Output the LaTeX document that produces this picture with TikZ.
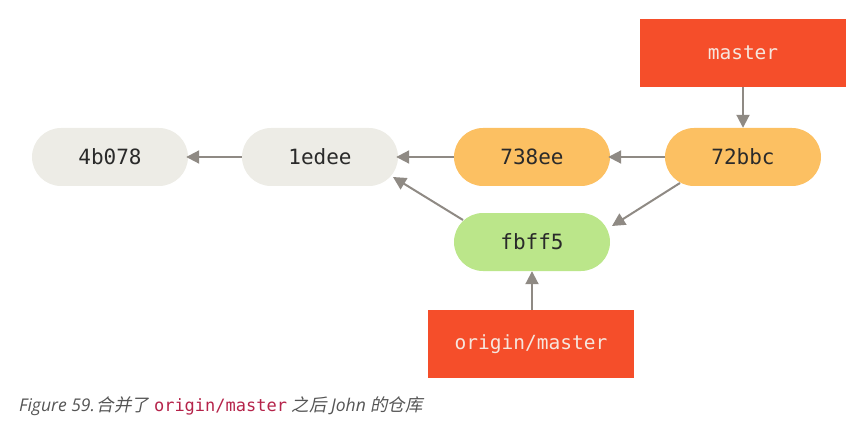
\documentclass[tikz,border=0pt]{standalone}
\usepackage{fontspec}
\setmonofont{DejaVu Sans Mono}
\setsansfont{Open Sans}
\newfontfamily\cjk[FakeSlant=0.2]{Noto Sans CJK SC}
\usetikzlibrary{arrows.meta}
\definecolor{cgrey}{HTML}{EDECE6}
\definecolor{corange}{HTML}{FCC062}
\definecolor{cgreen}{HTML}{BBE68A}
\definecolor{cred}{HTML}{F54E2A}
\definecolor{carrow}{HTML}{8F8A84}
\definecolor{ctext}{HTML}{2A2A2A}
\definecolor{clabel}{HTML}{F6E6DE}
\definecolor{ccap}{HTML}{555555}
\definecolor{ccode}{HTML}{B5234A}
\tikzset{
  commit/.style={rounded corners=29pt, minimum width=156pt, minimum height=58pt, inner sep=0pt, text=ctext, font=\ttfamily\fontsize{21}{25}\selectfont},
  branch/.style={fill=cred, minimum width=206pt, minimum height=68pt, inner sep=0pt, text=clabel, font=\ttfamily\fontsize{19.5}{23}\selectfont},
  conn/.style={draw=carrow, line width=2pt, -{Triangle[length=13pt,width=13pt]}},
}
\begin{document}
\begin{tikzpicture}[x=1pt,y=-1pt]
\useasboundingbox (0,0) rectangle (860,441);
\node[commit, fill=cgrey] (c1) at (110,157) {4b078};
\node[commit, fill=cgrey] (c2) at (320,157) {1edee};
\node[commit, fill=corange] (c3) at (532,157) {738ee};
\node[commit, fill=corange] (c4) at (743,157) {72bbc};
\node[commit, fill=cgreen] (c5) at (532,242) {fbff5};
\node[branch] (m) at (743,53) {master};
\node[branch] (om) at (531,344) {origin/master};
\draw[conn] (c2.west) -- ([xshift=-2pt]c1.east);
\draw[conn] (c3.west) -- ([xshift=-2pt]c2.east);
\draw[conn] (c4.west) -- ([xshift=-2pt]c3.east);
\draw[conn] (m.south) -- (c4.north);
\draw[conn] (c5.south |- om.north) -- (c5.south);
\coordinate (a1) at (680,183);
\coordinate (a2) at (612,226);
\draw[conn] (a1) -- (a2);
\coordinate (b1) at (463,220);
\coordinate (b2) at (393,177);
\draw[conn] (b1) -- (b2);
\node[anchor=west, text=ccap, inner sep=0pt] (cap) at (19,406) {\sffamily\itshape\fontsize{17.5}{21}\selectfont Figure 59.\hspace{2pt}{\cjk 合并了} {\color{ccode}\upshape\ttfamily\fontsize{17}{21}\selectfont origin/master} {\cjk 之后} John {\cjk 的仓库}};
\end{tikzpicture}
\end{document}
